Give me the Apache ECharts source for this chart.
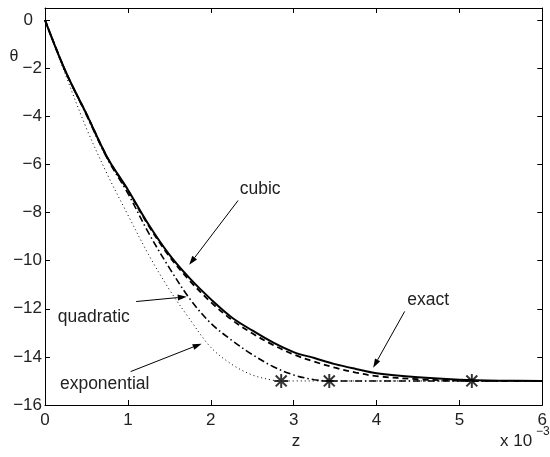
<!DOCTYPE html>
<html>
<head>
<meta charset="utf-8">
<script src="https://cdn.jsdelivr.net/npm/echarts@6/dist/echarts.min.js"></script>
<style>
  html, body { margin: 0; padding: 0; background: #fff; }
  #chart { width: 550px; height: 457px; }
</style>
</head>
<body>
<div id="chart"></div>
<script>
// z (units of 1e-3) and theta for each solution
const zExact      = [0, 0.25, 0.5, 0.75, 1.0, 1.25, 1.5, 1.75, 2.0, 2.25, 2.5, 2.75, 3.0, 3.25, 3.5, 3.75, 4.0, 4.5, 5.0, 5.5, 6.0];
const thetaExact  = [0, -2.15, -3.9, -5.7, -7.05, -8.5, -9.75, -10.75, -11.6, -12.35, -12.9, -13.4, -13.8, -14.05, -14.3, -14.5, -14.68, -14.85, -14.95, -14.99, -15.0];

const zCubic      = [0, 0.25, 0.5, 0.75, 1.0, 1.25, 1.5, 1.75, 2.0, 2.25, 2.5, 2.75, 3.0, 3.25, 3.5, 3.75, 4.0, 4.5, 5.0, 5.15, 6.0];
const thetaCubic  = [0, -2.15, -3.9, -5.7, -7.08, -8.55, -9.82, -10.85, -11.72, -12.45, -13.02, -13.5, -13.9, -14.2, -14.45, -14.65, -14.8, -14.93, -14.99, -15.0, -15.0];

const zQuad       = [0, 0.25, 0.5, 0.75, 1.0, 1.25, 1.5, 1.75, 2.0, 2.25, 2.5, 2.75, 3.0, 3.25, 3.43, 6.0];
const thetaQuad   = [0, -2.15, -3.95, -5.75, -7.2, -8.85, -10.3, -11.6, -12.6, -13.3, -13.9, -14.4, -14.75, -14.95, -15.0, -15.0];

const zExpo       = [0, 0.25, 0.5, 0.75, 1.0, 1.25, 1.5, 1.75, 2.0, 2.25, 2.5, 2.75, 2.85, 6.0];
const thetaExpo   = [0, -2.3, -4.5, -6.4, -8.1, -9.75, -11.2, -12.45, -13.6, -14.3, -14.75, -14.97, -15.0, -15.0];

// points where each approximation reaches the final value
const zStars      = [2.85, 3.43, 5.15];
const thetaStars  = [-15, -15, -15];

// annotation labels: text position and arrow from/to, in data units
const noteText    = ['cubic', 'quadratic', 'exponential', 'exact'];
const noteAt      = [[2.35, -7.04], [0.155, -12.33], [0.18, -15.13], [4.37, -11.63]];
const noteFrom    = [[2.33, -7.5], [1.1, -11.7], [1.034, -14.61], [4.34, -12.11]];
const noteTo      = [[1.74, -10.17], [1.71, -11.5], [1.89, -13.45], [3.96, -14.45]];

const FONT = '"Liberation Sans", Arial, Helvetica, sans-serif';
const INK = '#222';

const pairs = (xs, ys) => xs.map((x, i) => [x, ys[i]]);
const minus = v => String(v).replace('-', '\u2212');

const baseAxis = {
  type: 'value',
  axisLine: { show: true, onZero: false, lineStyle: { color: '#000', width: 1 } },
  axisTick: { show: true, inside: true, length: 5, lineStyle: { color: '#000', width: 1 } },
  splitLine: { show: false }
};

const chart = echarts.init(document.getElementById('chart'), null, { renderer: 'canvas' });

chart.setOption({
  animation: false,
  backgroundColor: '#fff',
  grid: { left: 45, top: 8, right: 2, bottom: 52, containLabel: false },
  xAxis: [
    Object.assign({}, baseAxis, {
      min: 0, max: 6, interval: 1, position: 'bottom',
      axisLabel: { color: INK, fontSize: 17, fontFamily: FONT, margin: 7, formatter: v => minus(v) }
    }),
    Object.assign({}, baseAxis, {
      min: 0, max: 6, interval: 1, position: 'top',
      axisLabel: { show: false }
    })
  ],
  yAxis: [
    Object.assign({}, baseAxis, {
      min: -16, max: 0.5, interval: 2, position: 'left',
      axisLabel: {
        color: INK, fontSize: 17, fontFamily: FONT, margin: 3, showMaxLabel: false,
        formatter: v => (v % 2 !== 0 ? '' : (v === 0 ? '{zero|0}' : minus(v))),
        rich: { zero: { color: INK, fontSize: 17, fontFamily: FONT, padding: [0, 9, 0, 0] } }
      }
    }),
    Object.assign({}, baseAxis, {
      min: -16, max: 0.5, interval: 2, position: 'right',
      axisLabel: { show: false }
    })
  ],
  series: [
    {
      name: 'exponential', type: 'line', data: pairs(zExpo, thetaExpo),
      smooth: 0.35, showSymbol: false,
      lineStyle: { color: '#000', width: 1, type: [1, 3] }
    },
    {
      name: 'quadratic', type: 'line', data: pairs(zQuad, thetaQuad),
      smooth: 0.35, showSymbol: false,
      lineStyle: { color: '#000', width: 1.6, type: [7, 3, 1.5, 3] }
    },
    {
      name: 'cubic', type: 'line', data: pairs(zCubic, thetaCubic),
      smooth: 0.35, showSymbol: false,
      lineStyle: { color: '#000', width: 1.8, type: [6, 4] }
    },
    {
      name: 'exact', type: 'line', data: pairs(zExact, thetaExact),
      smooth: 0.35, showSymbol: false,
      lineStyle: { color: '#000', width: 2 }
    },
    {
      name: 'stars', type: 'scatter', data: pairs(zStars, thetaStars),
      symbol: 'path://M8.6 0L11.4 0L11.4 20L8.6 20Z M0 8.6L20 8.6L20 11.4L0 11.4Z M1.2 3.2L3.2 1.2L18.8 16.8L16.8 18.8Z M16.8 1.2L18.8 3.2L3.2 18.8L1.2 16.8Z',
      symbolSize: 14,
      itemStyle: { color: '#000' },
      z: 5
    }
  ]
});

// annotation arrows and labels, placed through the chart's coordinate system
const toPx = p => chart.convertToPixel({ xAxisIndex: 0, yAxisIndex: 0 }, p);
const graphics = [];
noteText.forEach((t, i) => {
  const a = toPx(noteFrom[i]);
  const b = toPx(noteTo[i]);
  const dx = b[0] - a[0], dy = b[1] - a[1];
  const len = Math.hypot(dx, dy);
  const ux = dx / len, uy = dy / len;
  const hl = 9, hw = 3;
  const bx = b[0] - ux * hl, by = b[1] - uy * hl;
  graphics.push({
    type: 'line', silent: true,
    shape: { x1: a[0], y1: a[1], x2: bx, y2: by },
    style: { stroke: '#000', lineWidth: 1 }
  });
  graphics.push({
    type: 'polygon', silent: true,
    shape: { points: [[b[0], b[1]], [bx - uy * hw, by + ux * hw], [bx + uy * hw, by - ux * hw]] },
    style: { fill: '#000' }
  });
  const p = toPx(noteAt[i]);
  graphics.push({
    type: 'text', silent: true, x: p[0], y: p[1],
    style: { text: t, fill: INK, font: '17.5px ' + FONT, textAlign: 'left', textVerticalAlign: 'middle' }
  });
});

// axis titles
graphics.push({
  type: 'text', silent: true, x: 14, y: 57,
  style: { text: '\u03b8', fill: INK, font: '16px ' + FONT, textAlign: 'center', textVerticalAlign: 'middle' }
});
graphics.push({
  type: 'text', silent: true, x: 296, y: 441,
  style: { text: 'z', fill: INK, font: '17px ' + FONT, textAlign: 'center', textVerticalAlign: 'middle' }
});
graphics.push({
  type: 'text', silent: true, x: 500, y: 441,
  style: { text: 'x 10', fill: INK, font: '17px ' + FONT, textAlign: 'left', textVerticalAlign: 'middle' }
});
graphics.push({
  type: 'text', silent: true, x: 536, y: 432,
  style: { text: '\u22123', fill: INK, font: '12px ' + FONT, textAlign: 'left', textVerticalAlign: 'middle' }
});

chart.setOption({ graphic: graphics });
</script>
</body>
</html>
